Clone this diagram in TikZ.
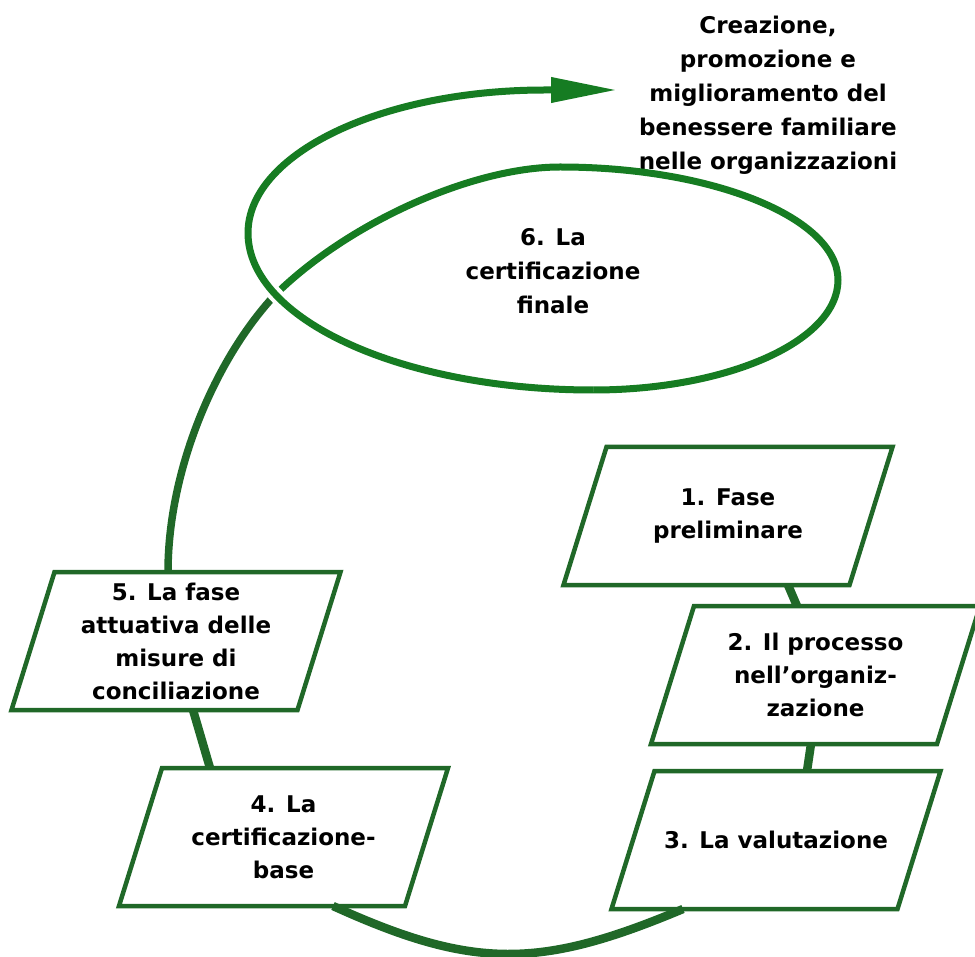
\documentclass[tikz,border=0pt]{standalone}
\usepackage{fontspec}
\setmainfont{DejaVu Sans}
\usepackage{tikz}
\usetikzlibrary{arrows.meta}
\definecolor{loopgreen}{RGB}{22,124,34}
\definecolor{boxgreen}{RGB}{32,104,40}

\begin{document}
\begin{tikzpicture}[x=1pt,y=1pt,yscale=-1,xscale=1,
  phase/.style={rectangle, minimum width=286pt, minimum height=138pt, inner sep=2pt,
    outer sep=0pt, align=center, font=\fontsize{23}{33}\selectfont\bfseries},
  frame/.style={draw=boxgreen, line width=4.5pt},
  caption/.style={align=center, inner sep=0.75pt, font=\fontsize{23}{34}\selectfont\bfseries},
  link/.style={draw=boxgreen, line width=8.5pt},
  spiral/.style={draw=loopgreen, line width=7pt}]
\useasboundingbox (0,0) rectangle (975,957);

% Text Node
\node[caption] (goal) at (768,95) {Creazione,\\promozione e\\miglioramento del\\benessere familiare\\nelle organizzazioni};
% Text Node
\node[caption] (final) at (553,271) {6. La\\certificazione\\finale};
\coordinate (cross) at (274,296);
\coordinate (loopbottom) at (593,390);
\coordinate (tip) at (617,90);

%Phases
\node[phase] (b1) at (728,516) {1. Fase\\preliminare};
\node[phase] (b2) at (815.5,675) {2. Il processo\\nell’organiz-\\zazione};
\node[phase] (b3) at (776,840) {3. La valutazione};
\node[phase] (b4) at (283.5,837) {4. La\\certificazione-\\base};
\node[phase] (b5) at (176,641) {5. La fase\\attuativa delle\\misure di\\conciliazione};
\foreach \b in {b1,b2,b3,b4,b5}
  \draw[frame] ([xshift=21.5pt]\b.north west) -- ([xshift=21.5pt]\b.north east)
    -- ([xshift=-21.5pt]\b.south east) -- ([xshift=-21.5pt]\b.south west) -- cycle;

%Straight Lines
\draw[link] ([xshift=60pt]b1.south) -- ([xshift=-18.5pt]b2.north);
\draw[link] ([xshift=-4.5pt]b2.south) -- ([xshift=31pt]b3.north);
\draw[link] ([xshift=-73.5pt]b4.north) -- ([xshift=17pt]b5.south);
%Curve Lines
\draw[link] ([xshift=-93pt]b3.south) .. controls (540,969) and (474,970) .. ([xshift=49.5pt]b4.south);

%Spiral, rising from phase 5
\draw[link, line width=7.5pt] ([xshift=-8pt]b5.north) .. controls (168,470) and (215,360) .. (cross);
%Spiral, inner turn
\draw[spiral] (cross) .. controls (345,225) and (470,167) .. (560,167)
  .. controls (713,167) and (838,218) .. (838,280)
  .. controls (838,341) and (728,390) .. (loopbottom);
%Spiral, outer turn
\draw[spiral, -{Triangle[length=66pt,width=24pt]}, preaction={draw=white, line width=15pt, -}]
  (loopbottom) .. controls (403,390) and (248,320) .. (248,233)
  .. controls (248,154) and (381,90) .. (545,90) -- (tip);

\end{tikzpicture}
\end{document}
